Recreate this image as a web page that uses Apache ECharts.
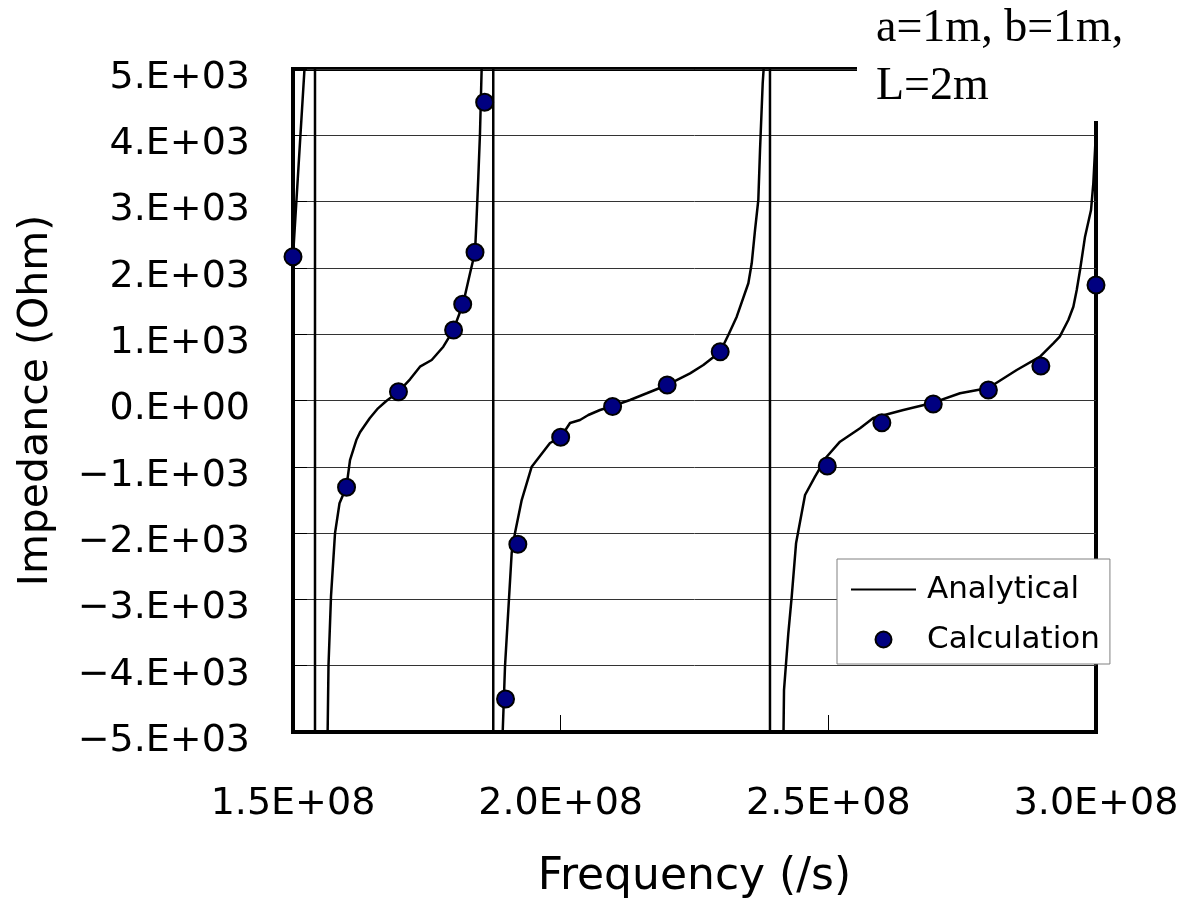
<!DOCTYPE html>
<html>
<head>
<meta charset="utf-8">
<script src="https://cdn.jsdelivr.net/npm/echarts@6/dist/echarts.min.js"></script>
<style>
  html, body { margin: 0; padding: 0; background: #fff; }
  #chart { width: 1184px; height: 905px; }
</style>
</head>
<body>
<div id="chart"></div>
<script>
// ---- Data ----
// Analytical curve: frequency (1/s) and impedance (Ohm); large +/- values mark the jumps at resonances
const analyticalFreq = [
  1.5000e8, 1.5245e8, 1.5410e8, 1.5412e8,
  1.5607e8, 1.5663e8, 1.5710e8, 1.5785e8, 1.5869e8, 1.5999e8, 1.6065e8, 1.6183e8, 1.6252e8, 1.6433e8,
  1.6588e8, 1.6743e8, 1.6967e8, 1.7186e8, 1.7372e8, 1.7591e8, 1.7808e8, 1.7995e8, 1.8176e8, 1.8307e8,
  1.8400e8, 1.8428e8, 1.8462e8, 1.8493e8, 1.8525e8, 1.8549e8, 1.8740e8, 1.8742e8,
  1.8891e8, 1.8960e8, 1.9085e8, 1.9147e8, 1.9272e8, 1.9459e8, 1.9801e8, 2.0001e8, 2.0175e8, 2.0361e8,
  2.0517e8, 2.0735e8, 2.0972e8, 2.1295e8, 2.1608e8, 2.1992e8, 2.2417e8, 2.2665e8, 2.2977e8, 2.3132e8,
  2.3289e8, 2.3506e8, 2.3569e8, 2.3631e8, 2.3692e8, 2.3724e8, 2.3774e8, 2.3799e8, 2.3817e8, 2.3909e8, 2.3911e8,
  2.4154e8, 2.4172e8, 2.4253e8, 2.4316e8, 2.4397e8, 2.4565e8, 2.4751e8, 2.4970e8, 2.5218e8, 2.5592e8,
  2.5840e8, 2.6401e8, 2.6961e8, 2.7460e8, 2.7989e8, 2.8519e8, 2.8955e8, 2.9203e8, 2.9323e8, 2.9483e8,
  2.9577e8, 2.9640e8, 2.9702e8, 2.9795e8, 2.9907e8, 2.9950e8, 2.9982e8, 3.0000e8
];
const analyticalZ = [
  2169, 5400, 60000, -60000,
  -7500, -4000, -2950, -2000, -1550, -1300, -900, -596, -480, -268,
  -118, -8, 130, 320, 510, 611, 811, 1063, 1455, 1918,
  2235, 2722, 3376, 4030, 5035, 6500, 60000, -60000,
  -5600, -4015, -2300, -1999, -1501, -998, -641, -555, -339, -294,
  -219, -143, -83, 8, 109, 234, 410, 535, 732, 988,
  1264, 1768, 2069, 2572, 3024, 3778, 4784, 5090, 8000, 60000, -60000,
  -5600, -4367, -3507, -2959, -2154, -1425, -1149, -848, -621, -419,
  -264, -143, -33, 109, 189, 460, 661, 863, 963, 1214,
  1415, 1667, 1968, 2471, 2873, 3276, 3778, 4100
];
// Calculation points
const calcFreq = [
  1.500e8, 1.600e8, 1.697e8, 1.800e8, 1.817e8, 1.840e8, 1.858e8, 1.897e8, 1.920e8, 2.000e8,
  2.097e8, 2.199e8, 2.298e8, 2.498e8, 2.600e8, 2.696e8, 2.799e8, 2.897e8, 3.000e8
];
const calcZ = [
  2169, -1309, 133, 1063, 1451, 2235, 4498, -4502, -2169, -555,
  -90, 234, 736, -988, -335, -53, 158, 520, 1742
];
// Tick labels
const xTickValues = [1.5e8, 2.0e8, 2.5e8, 3.0e8];
const xTickLabels = ['1.5E+08', '2.0E+08', '2.5E+08', '3.0E+08'];
const yTickValues = [-5000, -4000, -3000, -2000, -1000, 0, 1000, 2000, 3000, 4000, 5000];
const yTickLabels = ['\u22125.E+03', '\u22124.E+03', '\u22123.E+03', '\u22122.E+03', '\u22121.E+03', '0.E+00',
                     '1.E+03', '2.E+03', '3.E+03', '4.E+03', '5.E+03'];
const seriesNames = ['Analytical', 'Calculation'];
const noteLines = ['a=1m, b=1m,', 'L=2m'];

// ---- Build ----
const analyticalData = analyticalFreq.map((f, i) => [f, analyticalZ[i]]);
const calcData = calcFreq.map((f, i) => [f, calcZ[i]]);
function lookup(values, labels, v) {
  for (let i = 0; i < values.length; i++) {
    if (Math.abs(values[i] - v) < 1e-3 * Math.max(1, Math.abs(values[i]))) return labels[i];
  }
  return '';
}

const FONT = '"DejaVu Sans", "Liberation Sans", sans-serif';
const SERIF = '46px "Liberation Serif", "Times New Roman", serif';
const chart = echarts.init(document.getElementById('chart'), null, { renderer: 'canvas' });
chart.setOption({
  backgroundColor: '#ffffff',
  animation: false,
  grid: {
    left: 293, top: 69, right: 88, bottom: 173,
    show: true, borderColor: '#000', borderWidth: 4, backgroundColor: 'transparent',
    outerBoundsMode: 'none'
  },
  xAxis: {
    type: 'value',
    min: 1.5e8, max: 3.0e8, interval: 5e7,
    name: 'Frequency (/s)',
    nameLocation: 'middle',
    nameGap: 124,
    nameTextStyle: { fontFamily: FONT, fontSize: 44, color: '#000' },
    axisLine: { show: true, onZero: false, lineStyle: { color: '#000', width: 4 } },
    axisTick: { show: true, inside: true, length: 17, lineStyle: { color: '#000', width: 1 } },
    axisLabel: {
      margin: 53, fontFamily: FONT, fontSize: 38, color: '#000',
      formatter: v => lookup(xTickValues, xTickLabels, v)
    },
    splitLine: { show: false }
  },
  yAxis: {
    type: 'value',
    min: -5000, max: 5000, interval: 1000,
    name: 'Impedance (Ohm)',
    nameLocation: 'middle',
    nameGap: 236,
    nameTextStyle: { fontFamily: FONT, fontSize: 41, color: '#000' },
    axisLine: { show: true, onZero: false, lineStyle: { color: '#000', width: 4 } },
    axisTick: { show: true, inside: true, length: 14, lineStyle: { color: '#000', width: 1 } },
    axisLabel: {
      margin: 43, fontFamily: FONT, fontSize: 38, color: '#000',
      verticalAlign: 'top', lineHeight: 18,
      formatter: v => lookup(yTickValues, yTickLabels, v)
    },
    splitLine: { show: true, lineStyle: { color: '#333', width: 1 } }
  },
  legend: {
    orient: 'vertical',
    left: 837, top: 559,
    padding: [15, 10, 9, 13],
    itemGap: 19,
    itemWidth: 65, itemHeight: 16,
    backgroundColor: '#fff',
    borderColor: '#808080', borderWidth: 1, borderRadius: 0,
    textStyle: { fontFamily: FONT, fontSize: 31, color: '#000', padding: [0, 0, 0, 6] },
    data: [
      { name: seriesNames[0], itemStyle: { opacity: 0, color: 'rgba(0,0,0,0)', borderColor: 'rgba(0,0,0,0)', borderWidth: 0 } },
      { name: seriesNames[1] }
    ]
  },
  series: [
    {
      name: seriesNames[0],
      type: 'line',
      data: analyticalData,
      symbol: 'none',
      showSymbol: false,
      clip: true,
      lineStyle: { color: '#000', width: 2.5 },
      itemStyle: { color: '#000' },
      z: 3
    },
    {
      name: seriesNames[1],
      type: 'scatter',
      data: calcData,
      symbol: 'circle',
      symbolSize: 17,
      clip: false,
      itemStyle: { color: '#000080', borderColor: '#000', borderWidth: 2, opacity: 1 },
      z: 4
    }
  ],
  graphic: [
    { type: 'rect', left: 857, top: 0, z: 100, shape: { width: 327, height: 121 }, style: { fill: '#fff' } },
    { type: 'text', left: 876, top: 6, z: 101, style: { text: noteLines[0], font: SERIF, fill: '#000' } },
    { type: 'text', left: 876, top: 64, z: 101, style: { text: noteLines[1], font: SERIF, fill: '#000' } }
  ]
});
</script>
</body>
</html>
